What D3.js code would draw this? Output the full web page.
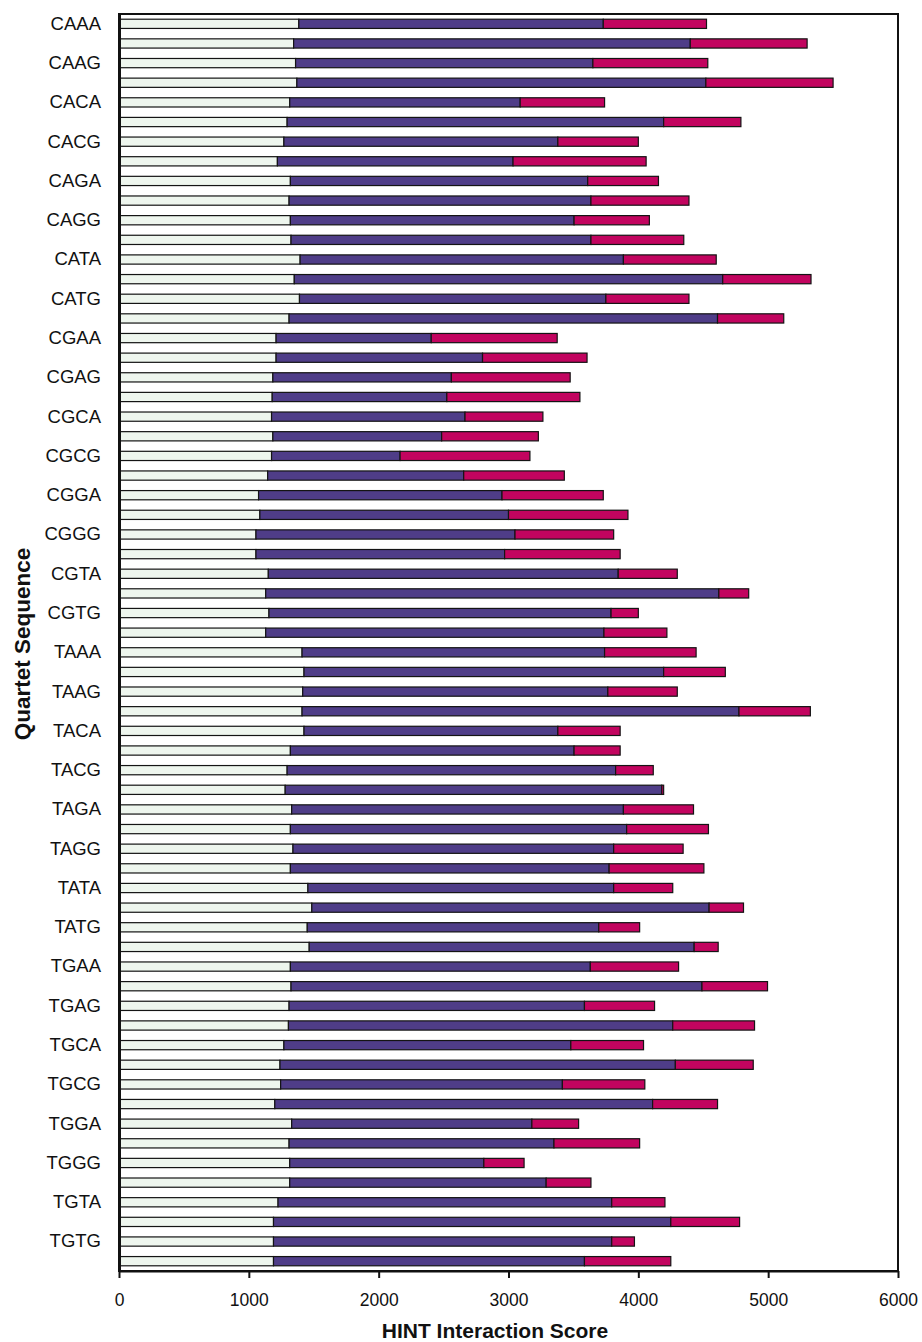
<!DOCTYPE html>
<html>
<head>
<meta charset="utf-8">
<script src="https://cdn.jsdelivr.net/npm/d3@7"></script>
<style>
  html, body { margin: 0; padding: 0; background: #ffffff; }
  svg { display: block; }
  text { font-family: "Liberation Sans", Arial, Helvetica, sans-serif; fill: #111; }
</style>
</head>
<body>
<svg id="chart" width="922" height="1342"></svg>
<script>
// Quartet sequences, top to bottom (every other one is labelled on the axis)
const quartets = [
  "CAAA","CAAC","CAAG","CAAT","CACA","CACC","CACG","CACT",
  "CAGA","CAGC","CAGG","CAGT","CATA","CATC","CATG","CATT",
  "CGAA","CGAC","CGAG","CGAT","CGCA","CGCC","CGCG","CGCT",
  "CGGA","CGGC","CGGG","CGGT","CGTA","CGTC","CGTG","CGTT",
  "TAAA","TAAC","TAAG","TAAT","TACA","TACC","TACG","TACT",
  "TAGA","TAGC","TAGG","TAGT","TATA","TATC","TATG","TATT",
  "TGAA","TGAC","TGAG","TGAT","TGCA","TGCC","TGCG","TGCT",
  "TGGA","TGGC","TGGG","TGGT","TGTA","TGTC","TGTG","TGTT"
];

// First score component (pale segment)
const scorePartA = [
  1385,1345,1360,1370,1315,1295,1270,1220,
  1320,1310,1320,1325,1395,1350,1390,1310,
  1210,1210,1185,1180,1175,1185,1175,1145,
  1075,1085,1055,1055,1150,1130,1155,1130,
  1410,1425,1415,1410,1425,1320,1295,1280,
  1330,1320,1340,1320,1455,1485,1450,1465,
  1320,1325,1310,1305,1270,1240,1245,1200,
  1330,1310,1315,1315,1225,1190,1190,1190
];

// Second score component (purple segment)
const scorePartB = [
  2345,3055,2290,3150,1775,2900,2110,1815,
  2290,2325,2185,2310,2490,3300,2360,3300,
  1195,1590,1375,1345,1490,1300, 990,1510,
  1875,1915,1995,1915,2695,3490,2635,2605,
  2330,2770,2350,3365,1955,2185,2530,2900,
  2555,2590,2470,2455,2355,3060,2245,2965,
  2310,3165,2275,2960,2210,3045,2170,2910,
  1850,2040,1495,1975,2570,3060,2605,2395
];

// Third score component (magenta segment)
const scorePartC = [
   795, 900, 885, 980, 650, 595, 620,1025,
   545, 755, 580, 715, 715, 680, 640, 510,
   970, 805, 915,1025, 600, 745,1000, 775,
   780, 920, 760, 890, 455, 230, 210, 485,
   705, 475, 535, 550, 480, 355, 290,  15,
   540, 630, 535, 730, 455, 265, 315, 185,
   680, 505, 540, 630, 560, 600, 635, 500,
   360, 660, 310, 345, 410, 530, 175, 665
];

const xTicks = [0, 1000, 2000, 3000, 4000, 5000, 6000];
const xTitle = "HINT Interaction Score";
const yTitle = "Quartet Sequence";

const seriesKeys = ["a", "b", "c"];
const seriesColors = { a: "#eef6ee", b: "#4f3d88", c: "#c2045f" };

const rows = quartets.map((q, i) => ({
  quartet: q, a: scorePartA[i], b: scorePartB[i], c: scorePartC[i]
}));

const svg = d3.select("#chart");
const plot = { left: 119, right: 898, top: 14, bottom: 1271 };

const x = d3.scaleLinear().domain([0, 6000]).range([plot.left, plot.right]);
const y = d3.scaleBand()
  .domain(quartets)
  .range([plot.top, plot.bottom])
  .paddingInner(0.53)
  .paddingOuter(0.265);

const stacked = d3.stack().keys(seriesKeys)(rows);

// Stacked bars
svg.append("g")
  .selectAll("g")
  .data(stacked)
  .join("g")
    .attr("fill", d => seriesColors[d.key])
  .selectAll("rect")
  .data(d => d)
  .join("rect")
    .attr("x", d => x(d[0]))
    .attr("y", d => y(d.data.quartet))
    .attr("width", d => x(d[1]) - x(d[0]))
    .attr("height", y.bandwidth())
    .attr("stroke", "#141414")
    .attr("stroke-width", 1.2);

// Plot frame
svg.append("rect")
  .attr("x", plot.left)
  .attr("y", plot.top)
  .attr("width", plot.right - plot.left)
  .attr("height", plot.bottom - plot.top)
  .attr("fill", "none")
  .attr("stroke", "#111")
  .attr("stroke-width", 2);

// Bottom axis
const xAxis = svg.append("g")
  .attr("transform", `translate(0,${plot.bottom})`)
  .call(d3.axisBottom(x).tickValues(xTicks).tickFormat(d3.format("d"))
    .tickSize(7).tickSizeOuter(0).tickPadding(16));
xAxis.select(".domain").attr("stroke", "#111").attr("stroke-width", 2);
xAxis.selectAll(".tick line").attr("stroke", "#111").attr("stroke-width", 2);
xAxis.selectAll(".tick text")
  .attr("font-size", 17.5)
  .attr("font-family", "'Liberation Sans', Arial, sans-serif")
  .attr("fill", "#111");

// Left axis, labelled at every other quartet
const yAxis = svg.append("g")
  .attr("transform", `translate(${plot.left},0)`)
  .call(d3.axisLeft(y)
    .tickValues(quartets.filter((d, i) => i % 2 === 0))
    .tickSize(0).tickPadding(18));
yAxis.select(".domain").attr("stroke", "#111").attr("stroke-width", 3);
yAxis.selectAll(".tick text")
  .attr("font-size", 18.5)
  .attr("font-family", "'Liberation Sans', Arial, sans-serif")
  .attr("fill", "#111");

// Axis titles
svg.append("text")
  .attr("x", 495)
  .attr("y", 1338)
  .attr("text-anchor", "middle")
  .attr("font-size", 21)
  .attr("font-weight", "bold")
  .text(xTitle);

svg.append("text")
  .attr("transform", "translate(30,644) rotate(-90)")
  .attr("text-anchor", "middle")
  .attr("font-size", 22.5)
  .attr("font-weight", "bold")
  .text(yTitle);
</script>
</body>
</html>
